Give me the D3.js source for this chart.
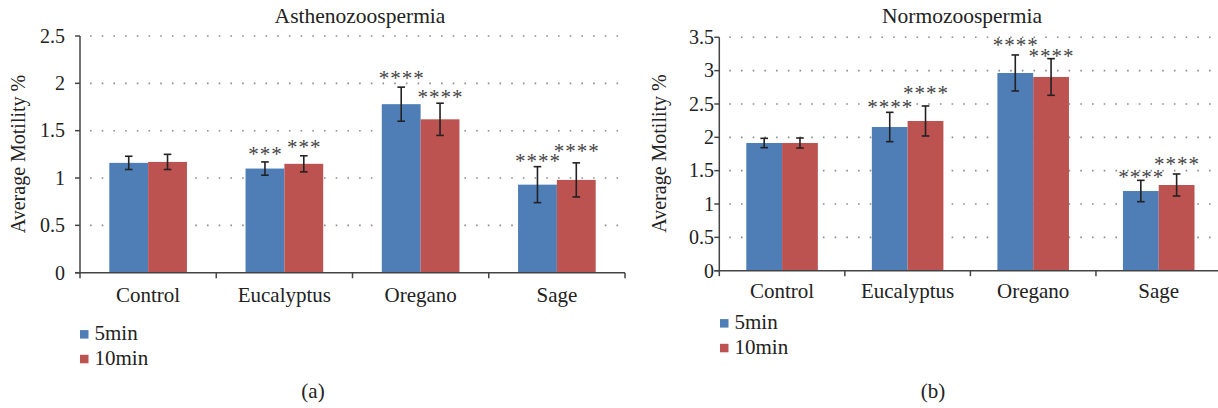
<!DOCTYPE html>
<html>
<head>
<meta charset="utf-8">
<script src="https://cdn.jsdelivr.net/npm/d3@7"></script>
<style>
  html, body { margin: 0; padding: 0; background: #fff; }
  svg { display: block; }
</style>
</head>
<body>
<svg id="chart" width="1218" height="408" font-family="Liberation Serif, DejaVu Serif, serif"></svg>
<script>
// ---------- DATA ----------
const categories = ["Control", "Eucalyptus", "Oregano", "Sage"];
const seriesNames = ["5min", "10min"];

// (a) Asthenozoospermia
const asthenoMin5   = [1.16, 1.10, 1.78, 0.93];
const asthenoMin10  = [1.17, 1.15, 1.62, 0.98];
const asthenoErr5   = [0.07, 0.07, 0.18, 0.19];
const asthenoErr10  = [0.08, 0.085, 0.17, 0.18];
const asthenoSig5   = ["", "***", "****", "****"];
const asthenoSig10  = ["", "***", "****", "****"];
const asthenoSigAt5  = [null, 1.243, 2.046, 1.173];
const asthenoSigAt10 = [null, 1.314, 1.845, 1.278];
const asthenoTicks  = [0, 0.5, 1, 1.5, 2, 2.5];

// (b) Normozoospermia
const normoMin5   = [1.915, 2.155, 2.965, 1.195];
const normoMin10  = [1.915, 2.245, 2.905, 1.285];
const normoErr5   = [0.07, 0.22, 0.27, 0.16];
const normoErr10  = [0.075, 0.225, 0.275, 0.165];
const normoSig5   = ["", "****", "****", "****"];
const normoSig10  = ["", "****", "****", "****"];
const normoSigAt5  = [null, 2.435, 3.375, 1.386];
const normoSigAt10 = [null, 2.65, 3.21, 1.585];
const normoTicks  = [0, 0.5, 1, 1.5, 2, 2.5, 3, 3.5];

const colors = ["#4F7EB6", "#BC5351"];
const FONT = "'Liberation Serif', 'DejaVu Serif', serif";

// ---------- PANELS (layout) ----------
const panels = [
  {
    title: "Asthenozoospermia", caption: "(a)",
    values: [asthenoMin5, asthenoMin10], errs: [asthenoErr5, asthenoErr10],
    sigs: [asthenoSig5, asthenoSig10], sigAt: [asthenoSigAt5, asthenoSigAt10],
    ticks: asthenoTicks,
    x0: 80, x1: 625, yTop: 36, yBot: 272.7, gridEnd: 623,
    tickLabelX: 65, yLabelX: 25, yLabelY: 154,
    titleX: 360, titleY: 22.5, catY: 302.3,
    legX: 80, legY: [334.3, 359], captionX: 313, captionY: 398
  },
  {
    title: "Normozoospermia", caption: "(b)",
    values: [normoMin5, normoMin10], errs: [normoErr5, normoErr10],
    sigs: [normoSig5, normoSig10], sigAt: [normoSigAt5, normoSigAt10],
    ticks: normoTicks,
    x0: 719.3, x1: 1221.5, yTop: 37.3, yBot: 270.7, gridEnd: 1218,
    tickLabelX: 714, yLabelX: 666, yLabelY: 153.5,
    titleX: 962, titleY: 22.5, catY: 298.3,
    legX: 720, legY: [323.3, 348], captionX: 933, captionY: 398
  }
];

const svg = d3.select("#chart");

function txt(sel) {
  return sel.style("font-family", FONT).style("fill", "#222");
}

panels.forEach(p => {
  const g = svg.append("g");
  const maxV = p.ticks[p.ticks.length - 1];
  const y = d3.scaleLinear().domain([0, maxV]).range([p.yBot, p.yTop]);
  const x = d3.scaleBand().domain(categories).range([p.x0, p.x1]).padding(0);
  const groupW = x.bandwidth() * 0.57;
  const xs = d3.scaleBand().domain(seriesNames).range([0, groupW]).padding(0);
  const off = (x.bandwidth() - groupW) / 2;

  // gridlines (dotted)
  g.append("g").selectAll("line")
    .data(p.ticks.filter(t => t > 0))
    .join("line")
    .attr("x1", p.x0 + 10).attr("x2", p.gridEnd)
    .attr("y1", d => y(d)).attr("y2", d => y(d))
    .attr("stroke", "#8c8c8c").attr("stroke-width", 1.6)
    .attr("stroke-dasharray", "1.6 10.1");

  // bars
  seriesNames.forEach((s, si) => {
    g.append("g").selectAll("rect")
      .data(categories.map((c, i) => ({ c, v: p.values[si][i] })))
      .join("rect")
      .attr("x", d => x(d.c) + off + xs(s))
      .attr("width", xs.bandwidth())
      .attr("y", d => y(d.v))
      .attr("height", d => y(0) - y(d.v))
      .attr("fill", colors[si]);
  });

  // error bars
  seriesNames.forEach((s, si) => {
    const eg = g.append("g").attr("stroke", "#222").attr("stroke-width", 1.6).attr("fill", "none");
    categories.forEach((c, i) => {
      const cx = x(c) + off + xs(s) + xs.bandwidth() / 2;
      const v = p.values[si][i], e = p.errs[si][i];
      const cap = 3.8;
      eg.append("line").attr("x1", cx).attr("x2", cx).attr("y1", y(v + e)).attr("y2", y(v - e));
      eg.append("line").attr("x1", cx - cap).attr("x2", cx + cap).attr("y1", y(v + e)).attr("y2", y(v + e));
      eg.append("line").attr("x1", cx - cap).attr("x2", cx + cap).attr("y1", y(v - e)).attr("y2", y(v - e));
    });
  });

  // significance stars
  seriesNames.forEach((s, si) => {
    categories.forEach((c, i) => {
      const label = p.sigs[si][i];
      if (!label) return;
      const cx = x(c) + off + xs(s) + xs.bandwidth() / 2;
      txt(g.append("text"))
        .attr("x", cx + 0.5).attr("y", y(p.sigAt[si][i]) + 5.9)
        .attr("text-anchor", "middle")
        .attr("font-size", 21)
        .attr("letter-spacing", 1)
        .style("fill", "#444")
        .text(label);
    });
  });

  // x axis line
  g.append("line").attr("x1", p.x0 - 5).attr("x2", p.x1)
    .attr("y1", p.yBot).attr("y2", p.yBot)
    .attr("stroke", "#444").attr("stroke-width", 1.5);
  // x ticks at category boundaries
  g.append("g").selectAll("line")
    .data(categories.slice(1).map(c => x(c)).concat([p.x1]))
    .join("line")
    .attr("x1", d => d).attr("x2", d => d)
    .attr("y1", p.yBot).attr("y2", p.yBot + 5.5)
    .attr("stroke", "#444").attr("stroke-width", 1.5);
  // y axis line
  g.append("line").attr("x1", p.x0).attr("x2", p.x0)
    .attr("y1", p.yTop).attr("y2", p.yBot + 5.5)
    .attr("stroke", "#444").attr("stroke-width", 1.5);
  // y ticks
  g.append("g").selectAll("line")
    .data(p.ticks)
    .join("line")
    .attr("x1", p.x0 - 5).attr("x2", p.x0)
    .attr("y1", d => y(d)).attr("y2", d => y(d))
    .attr("stroke", "#444").attr("stroke-width", 1.5);
  // y tick labels
  txt(g.append("g").selectAll("text")
    .data(p.ticks)
    .join("text"))
    .attr("x", p.tickLabelX).attr("y", d => y(d))
    .attr("dy", "0.34em")
    .attr("text-anchor", "end")
    .attr("font-size", 20)
    .text(d => d3.format("")(d));

  // category labels
  txt(g.append("g").selectAll("text")
    .data(categories)
    .join("text"))
    .attr("x", d => x(d) + x.bandwidth() / 2)
    .attr("y", p.catY)
    .attr("text-anchor", "middle")
    .attr("font-size", 21)
    .text(d => d);

  // y axis label
  txt(g.append("text"))
    .attr("transform", `translate(${p.yLabelX},${p.yLabelY}) rotate(-90)`)
    .attr("text-anchor", "middle")
    .attr("font-size", 20)
    .text("Average Motility %");

  // title
  txt(g.append("text"))
    .attr("x", p.titleX).attr("y", p.titleY)
    .attr("text-anchor", "middle")
    .attr("font-size", 21.5)
    .text(p.title);

  // legend
  seriesNames.forEach((s, si) => {
    const ly = p.legY[si];
    g.append("rect").attr("x", p.legX).attr("y", ly - 4.2)
      .attr("width", 8.5).attr("height", 8.5).attr("fill", colors[si]);
    txt(g.append("text")).attr("x", p.legX + 14.5).attr("y", ly + 6)
      .attr("font-size", 21).text(s);
  });

  // caption
  txt(g.append("text"))
    .attr("x", p.captionX).attr("y", p.captionY)
    .attr("text-anchor", "middle")
    .attr("font-size", 21)
    .text(p.caption);
});
</script>
</body>
</html>
